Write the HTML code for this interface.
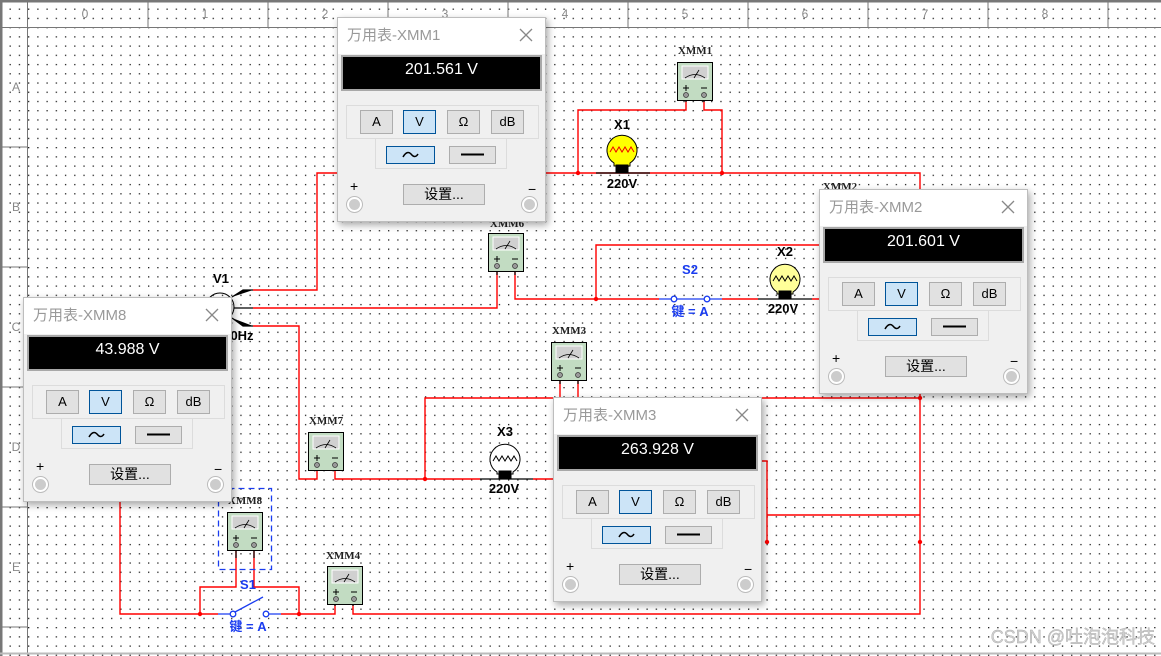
<!DOCTYPE html>
<html><head><meta charset="utf-8"><style>
*{margin:0;padding:0;box-sizing:border-box}
body{width:1161px;height:656px;overflow:hidden;background:#fff;position:relative;font-family:"Liberation Sans","Noto Sans CJK SC",sans-serif}
svg.main{position:absolute;left:0;top:0}
.p{position:absolute;width:209px;height:205px;background:#f0f0f0;border:1px solid #bdbdbd;box-shadow:2px 3px 7px rgba(0,0,0,.35)}
.t{position:absolute;left:0;top:0;width:207px;height:36px;background:#fff;color:#999;font-size:15px;line-height:36px;padding-left:9px}
.x{position:absolute;right:12px;top:10px}
.d{position:absolute;left:3px;top:37px;width:201px;height:36px;background:#000;border:2px solid #a8a8a8;color:#fff;font-size:16px;text-align:center;line-height:26px}
.g1{position:absolute;left:8px;top:87px;width:193px;height:34px;border:1px solid #dcdcdc}
.g2{position:absolute;left:37px;top:120px;width:132px;height:31px;border:1px solid #dcdcdc;border-top:none}
.b{position:absolute;background:#e1e1e1;border:1px solid #adadad;font-size:13px;text-align:center;color:#000}
.s{background:#cce4f7;border-color:#005499}
.pl{position:absolute;font-size:14px;color:#000}
.c{position:absolute;width:15px;height:15px;border-radius:50%;background:#ccc;border:2px solid #fff;box-shadow:0 0 0 1px #bbb}
.set{position:absolute;left:65px;top:166px;width:82px;height:21px;background:#e1e1e1;border:1px solid #adadad;font-size:14px;text-align:center;line-height:19px}
</style></head><body>
<svg class="main" width="1161" height="656" xmlns="http://www.w3.org/2000/svg">
<defs>
<pattern id="dots" x="28" y="27" width="9.2308" height="9.2308" patternUnits="userSpaceOnUse">
<rect x="0" y="0" width="1.3" height="1.3" fill="#222"/>
</pattern>
<g id="mm">
<rect x="0.5" y="0.5" width="35" height="38" fill="#c2dcc2" stroke="#000"/>
<rect x="5" y="4" width="26" height="13" fill="#d0d0d0" stroke="#fff"/>
<path d="M8 16 Q18 9 28 16" fill="none" stroke="#000" stroke-width="0.8"/>
<line x1="17" y1="16" x2="22" y2="8" stroke="#000" stroke-width="0.8"/>
<path d="M6 26 H12 M9 23 V29 M24 26 H30" stroke="#000" stroke-width="1"/>
<circle cx="9" cy="33" r="2.5" fill="#999" stroke="#333" stroke-width="0.7"/>
<circle cx="27" cy="33" r="2.5" fill="#999" stroke="#333" stroke-width="0.7"/>
</g>
</defs>
<rect x="0" y="0" width="1161" height="656" fill="url(#dots)"/>
<!-- frame / rulers -->
<g stroke="#777" stroke-width="1">
<line x1="1" y1="0" x2="1" y2="656" stroke-width="3"/>
<line x1="0" y1="1" x2="1161" y2="1" stroke-width="3"/>
<line x1="0" y1="27.5" x2="1161" y2="27.5"/>
<line x1="27.5" y1="0" x2="27.5" y2="656"/>
<line x1="0" y1="653.5" x2="1161" y2="653.5" stroke="#bbb" stroke-width="2"/>
<path d="M148 0V27M268 0V27M388 0V27M508 0V27M628 0V27M748 0V27M868 0V27M988 0V27M1108 0V27"/>
<path d="M0 147H27M0 267H27M0 387H27M0 507H27M0 627H27"/>
</g>
<g fill="#888" font-size="12" font-family="Liberation Sans,sans-serif" text-anchor="middle">
<text x="85" y="18">0</text><text x="205" y="18">1</text><text x="325" y="18">2</text><text x="445" y="18">3</text><text x="565" y="18">4</text><text x="685" y="18">5</text><text x="805" y="18">6</text><text x="925" y="18">7</text><text x="1045" y="18">8</text>
<text x="16" y="91">A</text><text x="16" y="211">B</text><text x="16" y="331">C</text><text x="16" y="451">D</text><text x="16" y="571">E</text>
</g>
<!-- wires -->
<g fill="none" stroke="#f00" stroke-width="1.4">
<path d="M253 290H317V173H920V614H353V605"/>
<path d="M686 101V110H578V173M704 101V110H722V173"/>
<path d="M253 308H497V272"/>
<path d="M515 272V299H659M722 299H758M812 299H819M596 299V245H819"/>
<path d="M253 326H299V479H317V470M335 470V479H480M533 479H553M425 479V398H920"/>
<path d="M761 461H767V542M767 515H920"/>
<path d="M560 380V398M578 380V398"/>
<path d="M120 502V614H218M281 614H335V605M200 614V587H236V550M254 550V587H299V614"/>
</g>
<g fill="#f00">
<circle cx="578" cy="173" r="2.2"/><circle cx="722" cy="173" r="2.2"/><circle cx="596" cy="299" r="2.2"/><circle cx="425" cy="479" r="2.2"/><circle cx="920" cy="398" r="2.2"/><circle cx="920" cy="542" r="2.2"/><circle cx="767" cy="542" r="2.2"/><circle cx="200" cy="614" r="2.2"/><circle cx="299" cy="614" r="2.2"/>
</g>
<!-- pin leads black -->
<g stroke="#000" stroke-width="1.2">
<path d="M686 95V102M704 95V102M497 266V275M515 266V275M560 374V384M578 374V384M317 464V470M335 464V470M236 545V558M254 545V558M335 599V606M353 599V606"/>
<path d="M596 173H650M758 299H812M480 479H533"/>
<path d="M232 297L243 290H253M234 308H253M232 318L243 326H253"/>
</g>
<!-- devices -->
<use href="#mm" x="677" y="62"/><use href="#mm" x="488" y="233"/><use href="#mm" x="551" y="342"/><use href="#mm" x="308" y="432"/><use href="#mm" x="227" y="512"/><use href="#mm" x="327" y="566"/>
<g font-family="Liberation Serif,serif" font-size="11" font-weight="bold" text-anchor="middle" fill="#222">
<text x="695" y="54">XMM1</text><text x="507" y="227">XMM6</text><text x="569" y="334">XMM3</text><text x="326" y="424">XMM7</text><text x="245" y="504">XMM8</text><text x="343" y="559">XMM4</text><text x="840" y="190">XMM2</text>
</g>
<!-- lamps -->
<g stroke="#000" stroke-width="1">
<path d="M614 163 A15 15 0 1 1 630 163 V166 H614Z" fill="#ffff00"/>
<rect x="616" y="165" width="12" height="8" fill="#000"/>
<path d="M610 152 l3-5 3 5 3-5 3 5 3-5 3 5 3-5 3 5" fill="none" stroke="#e00"/>
<path d="M777 292 A15 15 0 1 1 793 292 V294 H777Z" fill="#ffff99"/>
<rect x="779" y="291" width="12" height="8" fill="#000"/>
<path d="M773 281 l3-5 3 5 3-5 3 5 3-5 3 5 3-5 3 5" fill="none"/>
<path d="M497 472 A15 15 0 1 1 513 472 V474 H497Z" fill="#fff"/>
<rect x="499" y="471" width="12" height="8" fill="#000"/>
<path d="M493 461 l3-5 3 5 3-5 3 5 3-5 3 5 3-5 3 5" fill="none"/>
</g>
<!-- V1 -->
<circle cx="220" cy="307" r="14" fill="none" stroke="#000"/>
<!-- switches -->
<g stroke="#1a3cf0" stroke-width="1.3" fill="#fff">
<path d="M659 299H722" fill="none"/><circle cx="674" cy="299" r="2.8"/><circle cx="707" cy="299" r="2.8"/>
<path d="M218 614H231M269 614H281M235 612L263 597" fill="none"/><circle cx="233" cy="614" r="2.8"/><circle cx="266" cy="614" r="2.8"/>
<rect x="218.5" y="488.5" width="53" height="81" fill="none" stroke-dasharray="6 4"/>
</g>
<g font-family="Liberation Sans,'Noto Sans CJK SC',sans-serif" font-weight="bold" font-size="13" text-anchor="middle">
<text x="622" y="129">X1</text><text x="785" y="256">X2</text><text x="505" y="436">X3</text>
<text x="622" y="188">220V</text><text x="783" y="313">220V</text><text x="504" y="493">220V</text>
<text x="221" y="283">V1</text><text x="242" y="340">0Hz</text>
<g fill="#1a3cf0"><text x="690" y="274">S2</text><text x="690" y="316">键 = A</text><text x="248" y="589">S1</text><text x="248" y="631">键 = A</text></g>
</g>
<text x="1155" y="643" text-anchor="end" font-size="18" fill="#d0d0d0" stroke="#aaa" stroke-width="0.4" font-family="Liberation Sans,'Noto Sans CJK SC',sans-serif">CSDN @吐泡泡科技</text>
</svg>

<!-- panels -->
<div class="p" style="left:337px;top:17px">
<div class="t">万用表-XMM1</div><svg class="x" width="14" height="14"><path d="M1 1L13 13M13 1L1 13" stroke="#888" stroke-width="1.3"/></svg>
<div class="d">201.561 V</div>
<div class="g1"></div><div class="g2"></div>
<div class="b" style="left:22px;top:92px;width:33px;height:24px;line-height:22px">A</div>
<div class="b s" style="left:65px;top:92px;width:33px;height:24px;line-height:22px">V</div>
<div class="b" style="left:109px;top:92px;width:33px;height:24px;line-height:22px">Ω</div>
<div class="b" style="left:153px;top:92px;width:33px;height:24px;line-height:22px">dB</div>
<div class="b s" style="left:48px;top:128px;width:49px;height:18px"><svg width="47" height="16"><path d="M16 10 Q20 3 24 7 Q28 12 31 7" fill="none" stroke="#000" stroke-width="1.5"/></svg></div>
<div class="b" style="left:111px;top:128px;width:47px;height:18px"><svg width="45" height="16"><path d="M11 7.5H34" stroke="#000" stroke-width="2"/></svg></div>
<div class="pl" style="left:12px;top:160px">+</div><div class="pl" style="left:190px;top:163px">−</div>
<div class="c" style="left:9px;top:179px"></div><div class="c" style="left:184px;top:179px"></div>
<div class="set">设置...</div>
</div>

<div class="p" style="left:819px;top:189px">
<div class="t">万用表-XMM2</div><svg class="x" width="14" height="14"><path d="M1 1L13 13M13 1L1 13" stroke="#888" stroke-width="1.3"/></svg>
<div class="d">201.601 V</div>
<div class="g1"></div><div class="g2"></div>
<div class="b" style="left:22px;top:92px;width:33px;height:24px;line-height:22px">A</div>
<div class="b s" style="left:65px;top:92px;width:33px;height:24px;line-height:22px">V</div>
<div class="b" style="left:109px;top:92px;width:33px;height:24px;line-height:22px">Ω</div>
<div class="b" style="left:153px;top:92px;width:33px;height:24px;line-height:22px">dB</div>
<div class="b s" style="left:48px;top:128px;width:49px;height:18px"><svg width="47" height="16"><path d="M16 10 Q20 3 24 7 Q28 12 31 7" fill="none" stroke="#000" stroke-width="1.5"/></svg></div>
<div class="b" style="left:111px;top:128px;width:47px;height:18px"><svg width="45" height="16"><path d="M11 7.5H34" stroke="#000" stroke-width="2"/></svg></div>
<div class="pl" style="left:12px;top:160px">+</div><div class="pl" style="left:190px;top:163px">−</div>
<div class="c" style="left:9px;top:179px"></div><div class="c" style="left:184px;top:179px"></div>
<div class="set">设置...</div>
</div>

<div class="p" style="left:23px;top:297px">
<div class="t">万用表-XMM8</div><svg class="x" width="14" height="14"><path d="M1 1L13 13M13 1L1 13" stroke="#888" stroke-width="1.3"/></svg>
<div class="d">43.988 V</div>
<div class="g1"></div><div class="g2"></div>
<div class="b" style="left:22px;top:92px;width:33px;height:24px;line-height:22px">A</div>
<div class="b s" style="left:65px;top:92px;width:33px;height:24px;line-height:22px">V</div>
<div class="b" style="left:109px;top:92px;width:33px;height:24px;line-height:22px">Ω</div>
<div class="b" style="left:153px;top:92px;width:33px;height:24px;line-height:22px">dB</div>
<div class="b s" style="left:48px;top:128px;width:49px;height:18px"><svg width="47" height="16"><path d="M16 10 Q20 3 24 7 Q28 12 31 7" fill="none" stroke="#000" stroke-width="1.5"/></svg></div>
<div class="b" style="left:111px;top:128px;width:47px;height:18px"><svg width="45" height="16"><path d="M11 7.5H34" stroke="#000" stroke-width="2"/></svg></div>
<div class="pl" style="left:12px;top:160px">+</div><div class="pl" style="left:190px;top:163px">−</div>
<div class="c" style="left:9px;top:179px"></div><div class="c" style="left:184px;top:179px"></div>
<div class="set">设置...</div>
</div>

<div class="p" style="left:553px;top:397px">
<div class="t">万用表-XMM3</div><svg class="x" width="14" height="14"><path d="M1 1L13 13M13 1L1 13" stroke="#888" stroke-width="1.3"/></svg>
<div class="d">263.928 V</div>
<div class="g1"></div><div class="g2"></div>
<div class="b" style="left:22px;top:92px;width:33px;height:24px;line-height:22px">A</div>
<div class="b s" style="left:65px;top:92px;width:33px;height:24px;line-height:22px">V</div>
<div class="b" style="left:109px;top:92px;width:33px;height:24px;line-height:22px">Ω</div>
<div class="b" style="left:153px;top:92px;width:33px;height:24px;line-height:22px">dB</div>
<div class="b s" style="left:48px;top:128px;width:49px;height:18px"><svg width="47" height="16"><path d="M16 10 Q20 3 24 7 Q28 12 31 7" fill="none" stroke="#000" stroke-width="1.5"/></svg></div>
<div class="b" style="left:111px;top:128px;width:47px;height:18px"><svg width="45" height="16"><path d="M11 7.5H34" stroke="#000" stroke-width="2"/></svg></div>
<div class="pl" style="left:12px;top:160px">+</div><div class="pl" style="left:190px;top:163px">−</div>
<div class="c" style="left:9px;top:179px"></div><div class="c" style="left:184px;top:179px"></div>
<div class="set">设置...</div>
</div>
</body></html>
